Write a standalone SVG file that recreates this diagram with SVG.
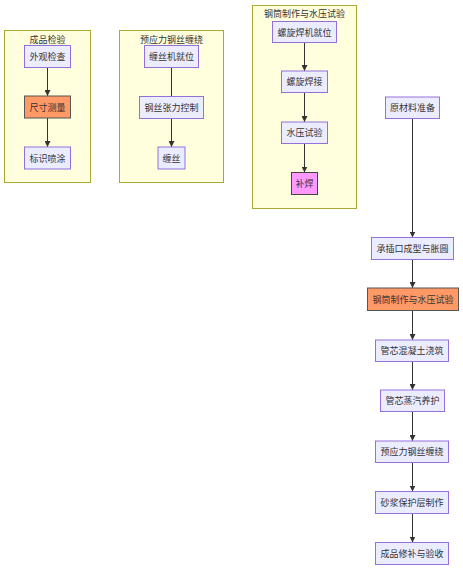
<svg xmlns="http://www.w3.org/2000/svg" width="463" height="570" viewBox="0 0 463 570">
<style>
.cl{fill:#ffffde;stroke:#aaaa33;stroke-width:1}
.nd{fill:#ececff;stroke:#9370db;stroke-width:1}
.or{fill:#ff9966;stroke:#555;stroke-width:1}
.mg{fill:#ff99ff;stroke:#444;stroke-width:1}
text{font-family:"Noto Sans CJK SC","Liberation Sans",sans-serif;font-size:9px;fill:#333;text-anchor:middle;dominant-baseline:central}
.ed{stroke:#333;stroke-width:1;fill:none;marker-end:url(#ah)}
</style>
<defs>
<marker id="ah" viewBox="0 0 10 10" refX="10" refY="5" markerWidth="6" markerHeight="6" markerUnits="userSpaceOnUse" orient="auto">
<path d="M0,0L10,5L0,10z" fill="#333"/>
</marker>
</defs>
<rect width="463" height="570" fill="#ffffff"/>
<g id="cluster-qc">
<rect class="cl" x="4.5" y="30.5" width="86" height="152"/>
<text x="47.5" y="39">成品检验</text>
</g>
<g id="cluster-wire">
<rect class="cl" x="119.5" y="30.5" width="104" height="152"/>
<text x="171.5" y="39">预应力钢丝缠绕</text>
</g>
<g id="cluster-steel">
<rect class="cl" x="252.5" y="5.5" width="104" height="203"/>
<text x="304.5" y="13.5">钢筒制作与水压试验</text>
</g>
<g id="connectors">
<path class="ed" d="M47.5,67.5V96"/>
<path class="ed" d="M47.5,117.5V147"/>
<path class="ed" d="M171.5,67.5V102"/>
<path class="ed" d="M171.5,118.5V147"/>
<path class="ed" d="M304.5,42.5V71"/>
<path class="ed" d="M304.5,92.5V122"/>
<path class="ed" d="M304.5,143.5V172.5"/>
<path class="ed" d="M412.5,118.5V237.5"/>
<path class="ed" d="M412.5,259.5V288"/>
<path class="ed" d="M412.5,310.5V340"/>
<path class="ed" d="M412.5,361.5V390"/>
<path class="ed" d="M412.5,411.5V441"/>
<path class="ed" d="M412.5,462.5V491.5"/>
<path class="ed" d="M412.5,513.5V542.5"/>
</g>
<g id="n-waiguan"><rect class="nd" x="24.5" y="45.5" width="46" height="22"/><text x="47.5" y="56.5">外观检查</text></g>
<g id="n-chicun"><rect class="or" x="24.5" y="96" width="46" height="22"/><text x="47.5" y="107">尺寸测量</text></g>
<g id="n-biaoshi"><rect class="nd" x="24.5" y="147" width="46" height="22"/><text x="47.5" y="158">标识喷涂</text></g>
<g id="n-chansijiuwei"><rect class="nd" x="144.5" y="45.5" width="54" height="22"/><text x="171.5" y="56.5">缠丝机就位</text></g>
<g id="n-zhangli"><rect class="nd" x="139.5" y="96.5" width="64" height="22"/><text x="171.5" y="107.5">钢丝张力控制</text></g>
<g id="n-chansi"><rect class="nd" x="158" y="147" width="27" height="22"/><text x="171.5" y="158">缠丝</text></g>
<g id="n-hanjijiuwei"><rect class="nd" x="272.5" y="21.5" width="64" height="21"/><text x="304.5" y="32">螺旋焊机就位</text></g>
<g id="n-hanjie"><rect class="nd" x="281.5" y="71" width="46" height="21.5"/><text x="304.5" y="81.5">螺旋焊接</text></g>
<g id="n-shuiya"><rect class="nd" x="281.5" y="122" width="46" height="21.5"/><text x="304.5" y="132.5">水压试验</text></g>
<g id="n-buhan"><rect class="mg" x="291.5" y="172.5" width="26" height="22"/><text x="304.5" y="183.5">补焊</text></g>
<g id="n-yuancailiao"><rect class="nd" x="385.5" y="97" width="54" height="21.5"/><text x="412.5" y="107.5">原材料准备</text></g>
<g id="n-chengcha"><rect class="nd" x="371.5" y="237.5" width="82" height="22"/><text x="412.5" y="248.5">承插口成型与胀圆</text></g>
<g id="n-gangtong"><rect class="or" x="367.5" y="288" width="91" height="22.5"/><text x="413" y="299">钢筒制作与水压试验</text></g>
<g id="n-jiaozhu"><rect class="nd" x="375.5" y="340" width="73" height="21.5"/><text x="412" y="350.5">管芯混凝土浇筑</text></g>
<g id="n-yanghu"><rect class="nd" x="380.5" y="390" width="64" height="21.5"/><text x="412.5" y="400.5">管芯蒸汽养护</text></g>
<g id="n-chanrao"><rect class="nd" x="375.5" y="441" width="73" height="21.5"/><text x="412" y="451.5">预应力钢丝缠绕</text></g>
<g id="n-shajiang"><rect class="nd" x="375.5" y="491.5" width="73" height="22"/><text x="412" y="502.5">砂浆保护层制作</text></g>
<g id="n-xiubu"><rect class="nd" x="375.5" y="542.5" width="73" height="22"/><text x="412" y="553.5">成品修补与验收</text></g>
</svg>
